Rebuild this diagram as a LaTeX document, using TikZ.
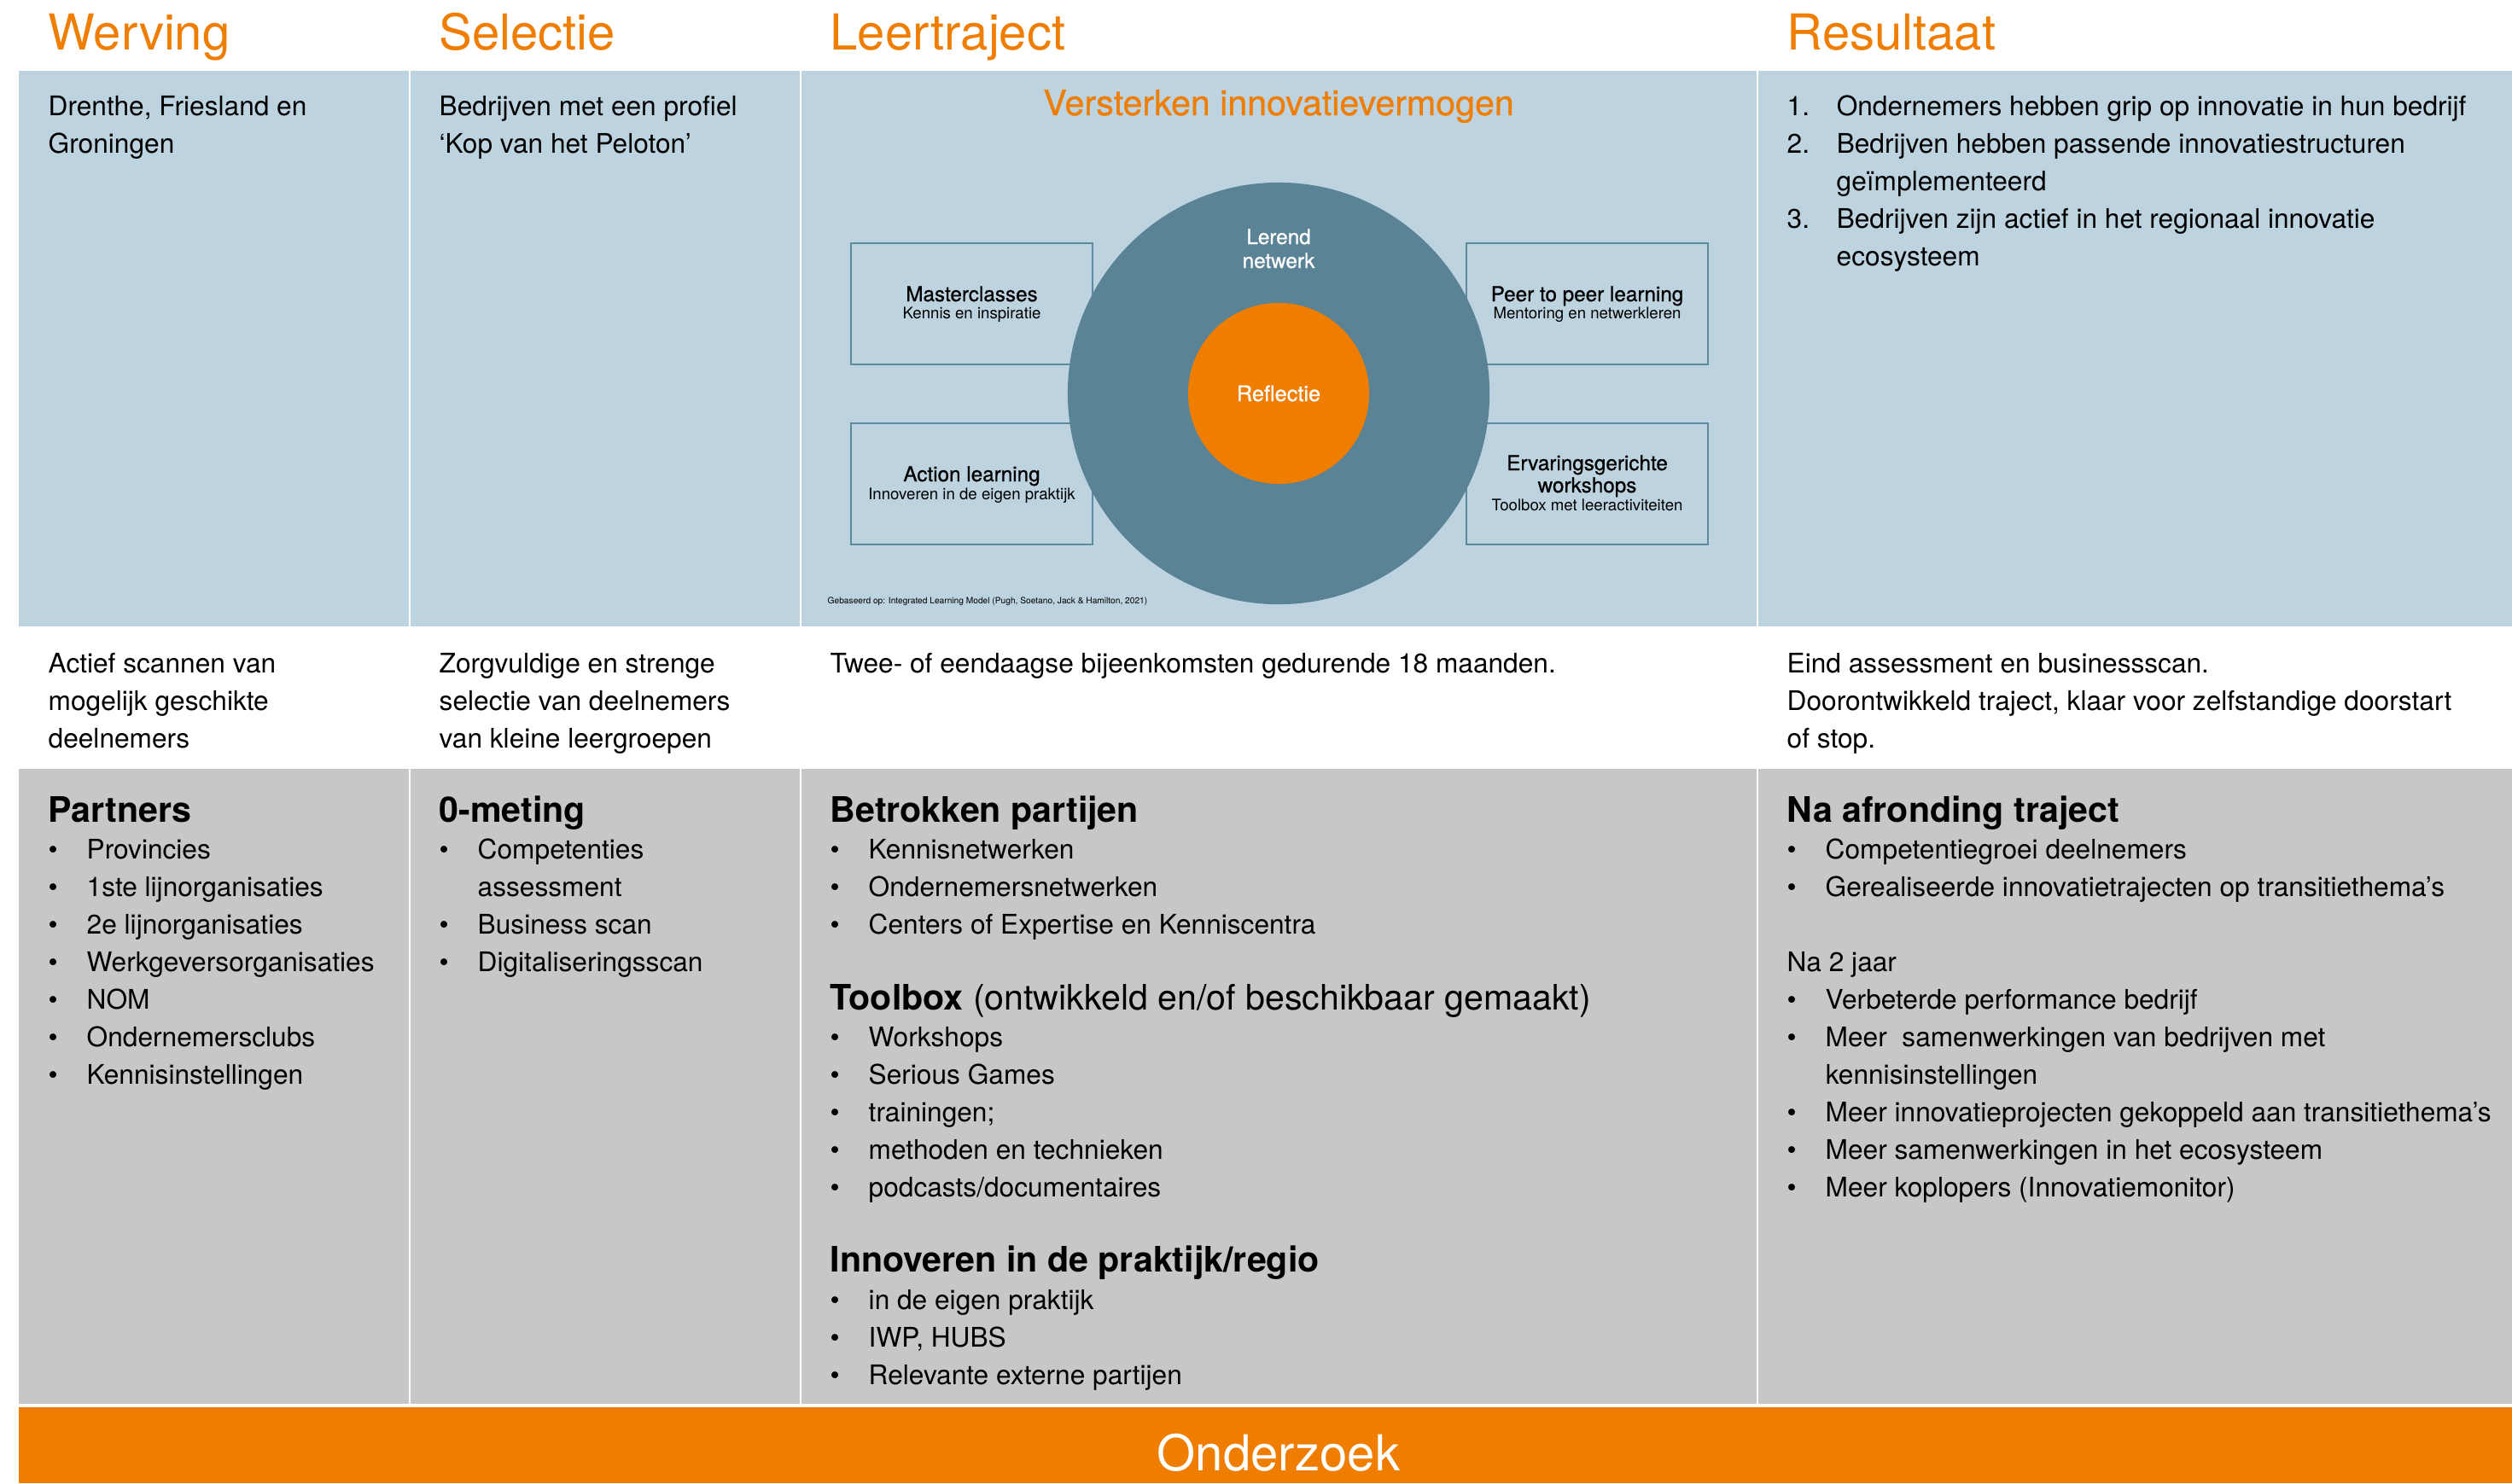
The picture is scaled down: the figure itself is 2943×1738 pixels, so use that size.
\documentclass[tikz,border=0pt]{standalone}
\usepackage{fontspec}
\setmainfont{TeX Gyre Heros}
\newfontface\medium{TeX Gyre Heros}[FakeBold=0.7]
\definecolor{oranje}{RGB}{239,125,0}
\definecolor{blauw}{RGB}{189,211,224}
\definecolor{grijs}{RGB}{199,199,199}
\definecolor{kring}{RGB}{90,131,150}
\definecolor{rand}{RGB}{95,138,158}
\begin{document}
\begin{tikzpicture}[x=0.01cm,y=-0.01cm,
    kop/.style={anchor=base west,inner sep=0,text=oranje,font=\fontsize{16.5}{20}\selectfont},
    tekst/.style={anchor=base west,inner sep=0,font=\fontsize{9}{11}\selectfont},
    titel/.style={tekst,font=\fontsize{11.7}{14}\selectfont\bfseries},
    bol/.style={tekst,execute at begin node={\makebox[12.8pt][l]{\textbullet}}},
    vervolg/.style={tekst,xshift=12.8pt},
    vak/.style={draw=rand,line width=0.6pt,minimum width=2.83cm,minimum height=1.42cm,inner sep=0},
    klein/.style={anchor=base,inner sep=0,font=\medium\fontsize{6.9}{8}\selectfont},
    mini/.style={anchor=base,inner sep=0,font=\fontsize{5.3}{6}\selectfont}
]
    \useasboundingbox (0,0) rectangle (2943,1738);
    \fill[white] (0,0) rectangle (2943,1738);
    \foreach \a/\b in {22/479,481/937,939/2058,2060/2943}{
        \fill[blauw] (\a,83) rectangle (\b,734);
        \fill[grijs] (\a,901) rectangle (\b,1645);
    }
    \fill[oranje] (22,1649) rectangle (2943,1738);

    \node[kop] (werving) at (56,58) {Werving};
    \node[kop] (selectie) at (514,58) {Selectie};
    \node[kop] (leertraject) at (972,58) {Leertraject};
    \node[kop] (resultaat) at (2093,58) {Resultaat};

    % bovenste rij
    \node[tekst] (w1) at (56,135) {Drenthe, Friesland en};
    \node[tekst] (w2) at (56,179) {Groningen};
    \node[tekst] (s1) at (514,135) {Bedrijven met een profiel};
    \node[tekst] (s2) at (514,179) {‘Kop van het Peloton’};
    \node[tekst] (r1) at (2093,135) {\makebox[16.5pt][l]{1.}Ondernemers hebben grip op innovatie in hun bedrijf};
    \node[tekst] (r2) at (2093,179) {\makebox[16.5pt][l]{2.}Bedrijven hebben passende innovatiestructuren};
    \node[tekst] (r2b) at (2151,223) {geïmplementeerd};
    \node[tekst] (r3) at (2093,267) {\makebox[16.5pt][l]{3.}Bedrijven zijn actief in het regionaal innovatie};
    \node[tekst] (r3b) at (2151,311) {ecosysteem};

    % leermodel
    \node[anchor=base,inner sep=0,text=oranje,font=\medium\fontsize{11.7}{14}\selectfont] (versterken) at (1498,135) {Versterken innovatievermogen};
    \node[vak] (mc) at (1138.5,356) {};
    \node[vak] (al) at (1138.5,567) {};
    \node[vak] (pp) at (1859.5,356) {};
    \node[vak] (ew) at (1859.5,567) {};
    \node[circle,fill=kring,minimum size=4.94cm,inner sep=0] (netwerk) at (1498,461) {};
    \node[circle,fill=oranje,minimum size=2.12cm,inner sep=0,text=white,font=\medium\fontsize{7.2}{8}\selectfont] (reflectie) at (1498,461) {Reflectie};
    \node[klein,text=white] (lerend1) at (1498,286) {Lerend};
    \node[klein,text=white] (lerend2) at (1498,314) {netwerk};
    \node[klein] (mct) at (1138.5,353) {Masterclasses};
    \node[mini] (mcs) at (1138.5,373) {Kennis en inspiratie};
    \node[klein] (alt) at (1138.5,564) {Action learning};
    \node[mini] (als) at (1138.5,585) {Innoveren in de eigen praktijk};
    \node[klein] (ppt) at (1859.5,353) {Peer to peer learning};
    \node[mini] (pps) at (1859.5,373) {Mentoring en netwerkleren};
    \node[klein] (ewt1) at (1859.5,551) {Ervaringsgerichte};
    \node[klein] (ewt2) at (1859.5,577) {workshops};
    \node[mini] (ews) at (1859.5,598) {Toolbox met leeractiviteiten};
    \node[anchor=base west,inner sep=0,font=\fontsize{2.9}{3}\selectfont] (bron) at (969,707) {Gebaseerd op: Integrated Learning Model (Pugh, Soetano, Jack \& Hamilton, 2021)};

    % middelste rij
    \foreach \t [count=\i from 0] in {Actief scannen van,mogelijk geschikte,deelnemers}
        \node[tekst] (wv\i) at (56,{788+44*\i}) {\t};
    \foreach \t [count=\i from 0] in {Zorgvuldige en strenge,selectie van deelnemers,van kleine leergroepen}
        \node[tekst] (sv\i) at (514,{788+44*\i}) {\t};
    \node[tekst] (lv) at (972,788) {Twee- of eendaagse bijeenkomsten gedurende 18 maanden.};
    \foreach \t [count=\i from 0] in {Eind assessment en businessscan.,{Doorontwikkeld traject, klaar voor zelfstandige doorstart},of stop.}
        \node[tekst] (rv\i) at (2093,{788+44*\i}) {\t};

    % onderste rij
    \node[titel] (partners) at (56,963) {Partners};
    \foreach \t [count=\i from 0] in {Provincies,1ste lijnorganisaties,2e lijnorganisaties,Werkgeversorganisaties,NOM,Ondernemersclubs,Kennisinstellingen}
        \node[bol] (p\i) at (56,{1006+44*\i}) {\t};

    \node[titel] (nulmeting) at (514,963) {0-meting};
    \foreach \s/\t [count=\i from 0] in {bol/Competenties,vervolg/assessment,bol/Business scan,bol/Digitaliseringsscan}
        \node[\s] (m\i) at (514,{1006+44*\i}) {\t};

    \node[titel] (betrokken) at (972,963) {Betrokken partijen};
    \foreach \t [count=\i from 0] in {Kennisnetwerken,Ondernemersnetwerken,Centers of Expertise en Kenniscentra}
        \node[bol] (b\i) at (972,{1006+44*\i}) {\t};
    \node[titel] (toolbox) at (972,1183) {Toolbox \mdseries(ontwikkeld en/of beschikbaar gemaakt)};
    \foreach \t [count=\i from 5] in {Workshops,Serious Games,trainingen;,methoden en technieken,podcasts/documentaires}
        \node[bol] (t\i) at (972,{1006+44*\i}) {\t};
    \node[titel] (innoveren) at (972,1490) {Innoveren in de praktijk/regio};
    \foreach \t [count=\i from 12] in {in de eigen praktijk,{IWP, HUBS},Relevante externe partijen}
        \node[bol] (ip\i) at (972,{1006+44*\i}) {\t};

    \node[titel] (afronding) at (2093,963) {Na afronding traject};
    \foreach \t [count=\i from 0] in {Competentiegroei deelnemers,Gerealiseerde innovatietrajecten op transitiethema’s}
        \node[bol] (a\i) at (2093,{1006+44*\i}) {\t};
    \node[tekst] (tweejaar) at (2093,1138) {Na 2 jaar};
    \foreach \s/\t [count=\i from 4] in {bol/Verbeterde performance bedrijf,bol/Meer~ samenwerkingen van bedrijven met,vervolg/kennisinstellingen,bol/Meer innovatieprojecten gekoppeld aan transitiethema’s,bol/Meer samenwerkingen in het ecosysteem,bol/Meer koplopers (Innovatiemonitor)}
        \node[\s] (j\i) at (2093,{1006+44*\i}) {\t};

    \node[anchor=base,inner sep=0,text=white,font=\fontsize{16.5}{20}\selectfont] (onderzoek) at (1498,1723) {Onderzoek};
\end{tikzpicture}
\end{document}
